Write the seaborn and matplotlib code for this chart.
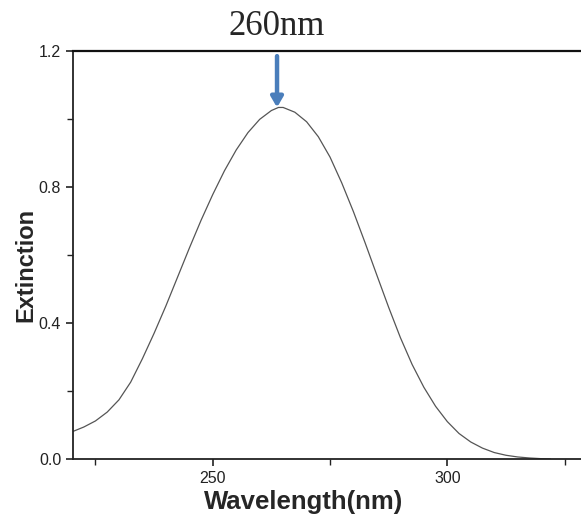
import matplotlib
matplotlib.use('Agg')
import matplotlib.pyplot as plt
import pandas as pd
import seaborn as sns
from matplotlib.ticker import MultipleLocator, FormatStrFormatter

# values
wavelength = [220, 222.5, 225, 227.5, 230, 232.5, 235, 237.5, 240, 242.5,
              245, 247.5, 250, 252.5, 255, 257.5, 260, 262.5, 264, 265,
              267.5, 270, 272.5, 275, 277.5, 280, 282.5, 285, 287.5, 290,
              292.5, 295, 297.5, 300, 302.5, 305, 307.5, 310, 312.5, 315,
              317.5, 320, 322]
extinction = [0.080, 0.094, 0.112, 0.138, 0.174, 0.226, 0.295, 0.370, 0.450, 0.535,
              0.620, 0.702, 0.778, 0.848, 0.909, 0.960, 0.999, 1.025, 1.034, 1.034,
              1.020, 0.992, 0.948, 0.888, 0.812, 0.727, 0.635, 0.540, 0.446, 0.357,
              0.278, 0.211, 0.155, 0.110, 0.075, 0.050, 0.032, 0.019, 0.011, 0.006,
              0.003, 0.001, 0.0]

peak_label = '260nm'
peak_x = 263.7
peak_y = 1.034

df = pd.DataFrame({'Wavelength': wavelength, 'Extinction': extinction})

sns.set_style('ticks')
plt.rcParams['font.family'] = ['Liberation Sans', 'DejaVu Sans']

fig = plt.figure(figsize=(5.81, 5.18), dpi=100)
ax = fig.add_axes([0.1256, 0.1139, 0.8744, 0.7876])

sns.lineplot(data=df, x='Wavelength', y='Extinction', ax=ax,
             color='#555555', linewidth=0.9)

ax.set_xlim(220.2, 328.5)
ax.set_ylim(0, 1.2)
ax.xaxis.set_major_locator(MultipleLocator(50))
ax.xaxis.set_minor_locator(MultipleLocator(25))
ax.yaxis.set_major_locator(MultipleLocator(0.4))
ax.yaxis.set_minor_locator(MultipleLocator(0.2))
ax.yaxis.set_major_formatter(FormatStrFormatter('%.1f'))

ax.tick_params(which='major', direction='out', length=5, width=1.2,
               labelsize=11.5, colors='#222222')
ax.tick_params(which='minor', direction='out', length=4, width=1.0, color='#222222')

for side in ['left', 'bottom']:
    ax.spines[side].set_linewidth(1.3)
    ax.spines[side].set_color('#222222')
ax.spines['top'].set_visible(True)
ax.spines['top'].set_linewidth(1.6)
ax.spines['top'].set_color('#111111')
ax.spines['right'].set_visible(False)

ax.set_xlabel('Wavelength(nm)', fontsize=18.5, fontweight='bold')
ax.set_ylabel('Extinction', fontsize=17, fontweight='bold')
ax.xaxis.set_label_coords(0.453, -0.075)
ax.yaxis.set_label_coords(-0.07, 0.475)

ax.annotate('', xy=(peak_x, peak_y), xytext=(peak_x, 1.185),
            arrowprops=dict(arrowstyle='-|>,head_length=0.6,head_width=0.35',
                            color='#4a7ebb', lw=3.2, shrinkA=0, shrinkB=0),
            annotation_clip=False)
ax.text(peak_x, 1.225, peak_label, ha='center', va='bottom',
        fontsize=25, family=['Liberation Serif', 'DejaVu Serif'])

fig.savefig('out.png', dpi=100)
